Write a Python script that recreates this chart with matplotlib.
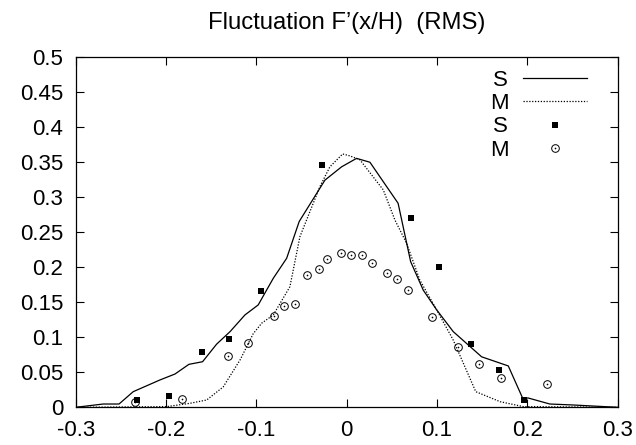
import matplotlib
matplotlib.use("Agg")
import matplotlib.pyplot as plt
from matplotlib.legend_handler import HandlerTuple

plt.rcParams['font.family'] = ['Liberation Sans', 'DejaVu Sans']

# Simulation S (solid line)
s_line_x = [-0.30, -0.2695, -0.252, -0.2363, -0.2067, -0.190, -0.1746, -0.1595, -0.144,
            -0.129, -0.1126, -0.0979, -0.0812, -0.0664, -0.0525, -0.024, -0.0055, 0.011,
            0.0258, 0.057, 0.0709, 0.0849, 0.0997, 0.118, 0.1495, 0.179, 0.195, 0.201,
            0.225, 0.251, 0.30]
s_line_y = [0.0, 0.0047, 0.0047, 0.0223, 0.039, 0.0475, 0.0613, 0.065, 0.090,
            0.108, 0.1317, 0.146, 0.184, 0.2125, 0.265, 0.324, 0.343, 0.355,
            0.3495, 0.291, 0.2077, 0.167, 0.139, 0.108, 0.072, 0.059, 0.0128, 0.0133,
            0.0047, 0.0033, 0.0]

# Simulation M (dotted line)
m_line_x = [-0.30, -0.199, -0.1735, -0.155, -0.1367, -0.118, -0.1034, -0.094, -0.0812,
            -0.0628, -0.0517, -0.0296, -0.0185, -0.0044, 0.0037, 0.0147, 0.0406, 0.0535,
            0.0664, 0.081, 0.0997, 0.118, 0.143, 0.170, 0.1956, 0.30]
m_line_y = [0.0, 0.001, 0.0057, 0.0104, 0.029, 0.0675, 0.105, 0.120, 0.1317,
            0.172, 0.2434, 0.3147, 0.343, 0.3613, 0.3585, 0.353, 0.310, 0.267,
            0.234, 0.1816, 0.139, 0.096, 0.0223, 0.008, 0.001, 0.0]

# Measurement S (filled squares)
s_pts_x = [-0.2326, -0.197, -0.1606, -0.1303, -0.0953, -0.0273, 0.0709, 0.1022, 0.1377,
           0.1687, 0.1964]
s_pts_y = [0.0104, 0.0166, 0.0794, 0.0974, 0.1664, 0.3457, 0.2705, 0.2006, 0.0903,
           0.0537, 0.0104]

# Measurement M (open circles)
m_pts_x = [-0.2348, -0.182, -0.131, -0.1096, -0.0808, -0.0698, -0.0569, -0.044, -0.031,
           -0.0218, -0.0063, 0.0048, 0.0173, 0.0284, 0.0443, 0.0554, 0.0683, 0.0945,
           0.123, 0.1469, 0.1712, 0.2218]
m_pts_y = [0.008, 0.0118, 0.0732, 0.0917, 0.1298, 0.145, 0.147, 0.1887, 0.1969,
           0.2116, 0.2197, 0.2173, 0.2173, 0.2054, 0.1916, 0.183, 0.1668, 0.1284,
           0.0856, 0.0618, 0.0418, 0.0332]

x_ticks = [-0.3, -0.2, -0.1, 0, 0.1, 0.2, 0.3]
x_tick_labels = ['-0.3', '-0.2', '-0.1', '0', '0.1', '0.2', '0.3']
y_ticks = [0, 0.05, 0.1, 0.15, 0.2, 0.25, 0.3, 0.35, 0.4, 0.45, 0.5]
y_tick_labels = ['0', '0.05', '0.1', '0.15', '0.2', '0.25', '0.3', '0.35', '0.4', '0.45', '0.5']

fig = plt.figure(figsize=(6.36, 4.45), dpi=100)
ax = fig.add_axes([0.119, 0.0847, 0.852, 0.7879])

l1, = ax.plot(s_line_x, s_line_y, color='black', lw=0.9, label='S')
l2, = ax.plot(m_line_x, m_line_y, color='black', lw=0.9, linestyle=(0, (1, 1.3)), label='M')
p1, = ax.plot(s_pts_x, s_pts_y, linestyle='none', marker='s', ms=5, color='black',
              markeredgewidth=0, label='S')
p2, = ax.plot(m_pts_x, m_pts_y, linestyle='none', marker='o', ms=5.5, markerfacecolor='none',
              markeredgecolor='black', markeredgewidth=0.7)
p2c, = ax.plot(m_pts_x, m_pts_y, linestyle='none', marker='o', ms=1.2, color='black',
               markeredgewidth=0)

ax.set_xlim(-0.3, 0.3)
ax.set_ylim(0, 0.5)
ax.set_xticks(x_ticks)
ax.set_xticklabels(x_tick_labels)
ax.set_yticks(y_ticks)
ax.set_yticklabels(y_tick_labels)
ax.tick_params(direction='in', length=5.8, width=0.8, top=True, right=True,
               labelsize=16, pad=9)
for sp in ax.spines.values():
    sp.set_linewidth(0.9)

ax.set_title('Fluctuation F’(x/H)  (RMS)', fontsize=17.2, pad=19.8)

leg = ax.legend([l1, l2, p1, (p2, p2c)], ['S', 'M', 'S', 'M'],
                handler_map={tuple: HandlerTuple(ndivide=1, pad=0)},
                loc='upper right', bbox_to_anchor=(0.944, 0.962), markerfirst=False,
                frameon=False, fontsize=16, handlelength=2.9, handletextpad=0.65,
                labelspacing=0.1, borderpad=0, borderaxespad=0)

fig.savefig('out.png', dpi=100)
